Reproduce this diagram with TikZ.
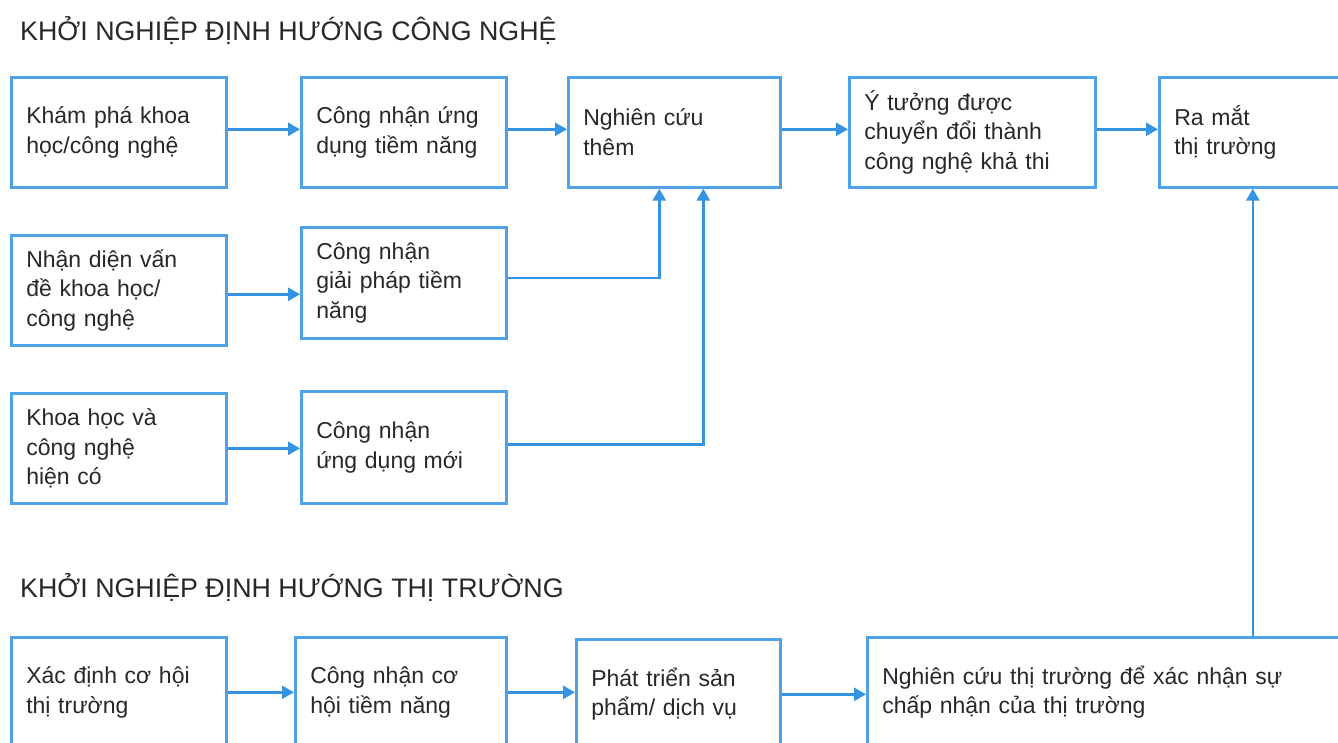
\documentclass[tikz,border=0pt]{standalone}
\usepackage{fontspec}
\setmainfont{Liberation Sans}
\usetikzlibrary{arrows.meta}
\definecolor{boxblue}{RGB}{78,163,232}
\definecolor{arrblue}{RGB}{52,148,226}
\definecolor{txt}{RGB}{40,40,40}
\begin{document}
\begin{tikzpicture}[x=1pt,y=-1pt,
  box/.style={draw=boxblue, line width=2.6pt, anchor=north west, align=left,
    inner xsep=15pt, inner ysep=0pt, text width=#1, minimum height=110pt,
    font=\fontsize{23}{29.5}\selectfont, text=txt},
  arr/.style={draw=arrblue, line width=2.6pt, -{Triangle[width=13pt,length=12pt]}},
  title/.style={anchor=base west, inner sep=0pt, font=\fontsize{26.8}{30}\selectfont, text=txt}]
\useasboundingbox (0,0) rectangle (1338,742);
\clip (0,0) rectangle (1338,742);
\fill[white] (0,0) rectangle (1338,742);

\node[title] (t1) at (20,40) {KHỞI NGHIỆP ĐỊNH HƯỚNG CÔNG NGHỆ};
\node[title] (t2) at (20,597) {KHỞI NGHIỆP ĐỊNH HƯỚNG THỊ TRƯỜNG};

% row 1
\node[box=185] (A) at (10,76) {Khám phá khoa\\học/công nghệ};
\node[box=175] (B) at (300,76) {Công nhận ứng\\dụng tiềm năng};
\node[box=182] (C) at (567,76) {Nghiên cứu\\thêm};
\node[box=216] (D) at (848,76) {Ý tưởng được\\chuyển đổi thành\\công nghệ khả thi};
\node[box=157] (E) at (1158,76) {Ra mắt\\thị trường};

% row 2
\node[box=185] (L2) at (10,234) {Nhận diện vấn\\đề khoa học/\\công nghệ};
\node[box=175, minimum height=111pt] (M2) at (300,226) {Công nhận\\giải pháp tiềm\\năng};

% row 3
\node[box=185] (L3) at (10,392) {Khoa học và\\công nghệ\\hiện có};
\node[box=175, minimum height=112pt] (M3) at (300,390) {Công nhận\\ứng dụng mới};

% bottom row
\node[box=185] (P1) at (10,636) {Xác định cơ hội\\thị trường};
\node[box=181] (P2) at (294,636) {Công nhận cơ\\hội tiềm năng};
\node[box=174] (P3) at (575,638) {Phát triển sản\\phẩm/ dịch vụ};
\node[box=449] (P4) at (866,636) {Nghiên cứu thị trường để xác nhận sự\\chấp nhận của thị trường};

% connectors
\draw[arr] ([yshift=3pt]A.east) -- ([yshift=3pt]B.west);
\draw[arr] ([yshift=3pt]B.east) -- ([yshift=3pt]C.west);
\draw[arr] ([yshift=3pt]C.east) -- ([yshift=3pt]D.west);
\draw[arr] ([yshift=3pt]D.east) -- ([yshift=3pt]E.west);
\draw[arr] ([yshift=-4pt]L2.east) -- ([yshift=-4pt]L2.east -| M2.west);
\draw[arr] (L3.east) -- (L3.east -| M3.west);
\draw[arr] ([yshift=5pt]M2.east) -| ([xshift=-15pt]C.south);
\draw[arr] ([yshift=3pt]M3.east) -| ([xshift=29pt]C.south);
\draw[arr] (P1.east) -- (P1.east -| P2.west);
\draw[arr] (P2.east) -- (P2.east -| P3.west);
\draw[arr] (P3.east) -- (P3.east -| P4.west);
\draw[arr] (P4.north -| E.south) -- (E.south);
\end{tikzpicture}
\end{document}
